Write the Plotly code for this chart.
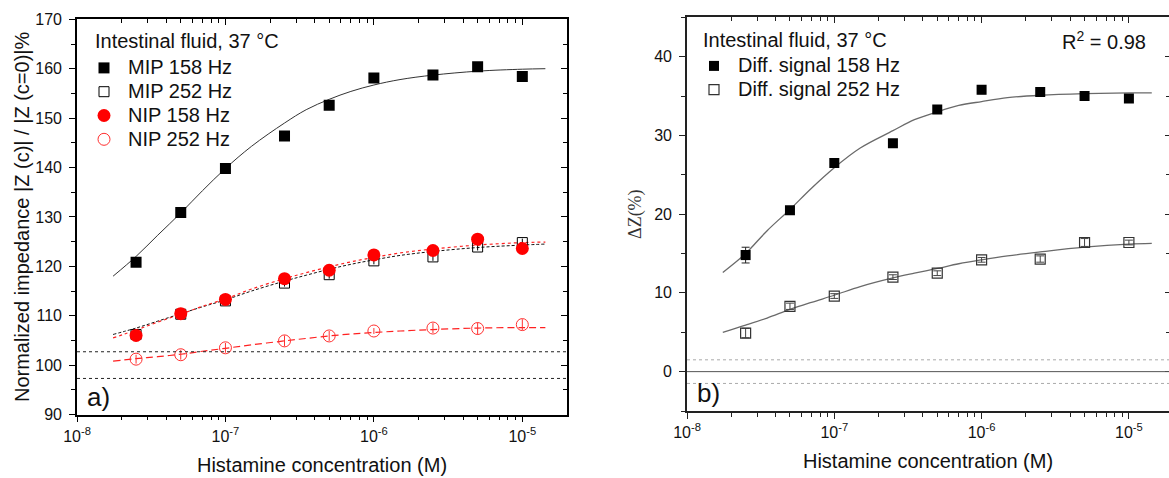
import math
import plotly.graph_objects as go

# ---------------- data ----------------
conc = [2.5e-8, 5e-8, 1e-7, 2.5e-7, 5e-7, 1e-6, 2.5e-6, 5e-6, 1e-5]

mip158 = [120.8, 130.9, 139.8, 146.4, 152.6, 158.1, 158.7, 160.4, 158.4]
mip252 = [106.2, 110.3, 113.0, 116.6, 118.3, 121.1, 121.9, 123.9, 124.8]
mip252_err = [0.8, 0.6, 0.6, 0.7, 0.8, 0.7, 0.8, 0.7, 0.8]
nip158 = [106.0, 110.4, 113.3, 117.5, 119.2, 122.3, 123.2, 125.5, 123.6]
nip252 = [101.2, 102.1, 103.5, 104.9, 105.9, 106.9, 107.5, 107.4, 108.2]
nip252_err = [0.9, 1.0, 1.0, 1.1, 1.0, 0.6, 1.0, 1.2, 1.1]

fit_x = [1.75e-8, 2.5e-8, 3.5e-8, 5e-8, 7e-8, 1e-7, 1.5e-7, 2.5e-7, 3.5e-7,
         5e-7, 7e-7, 1e-6, 1.5e-6, 2.5e-6, 5e-6, 1e-5, 1.43e-5]
fit_mip158 = [118.0, 122.0, 126.3, 130.8, 135.3, 139.8, 144.3, 149.0, 151.7,
              153.8, 155.4, 156.7, 157.8, 158.7, 159.5, 159.9, 160.0]
fit_mip252 = [106.2, 107.5, 108.9, 110.4, 111.8, 113.2, 115.0, 117.0, 118.2,
              119.4, 120.4, 121.3, 122.2, 123.0, 123.8, 124.3, 124.5]
fit_nip158 = [105.5, 107.1, 108.7, 110.3, 111.9, 113.4, 115.4, 117.5, 118.7,
              119.9, 120.9, 121.8, 122.7, 123.5, 124.3, 124.8, 124.9]
fit_nip252 = [100.8, 101.3, 101.7, 102.2, 102.8, 103.4, 104.1, 104.9, 105.4,
              105.9, 106.3, 106.6, 106.9, 107.2, 107.5, 107.6, 107.6]
limit_lines_a = [102.7, 97.3]

diff158 = [14.8, 20.5, 26.5, 29.0, 33.3, 35.8, 35.5, 35.0, 34.7]
diff158_err = [1.0, 0.4, 0.5, 0.3, 0.4, 0.5, 0.3, 0.3, 0.4]
diff252 = [4.9, 8.3, 9.6, 12.0, 12.5, 14.2, 14.3, 16.4, 16.4]
diff252_err = [0.6, 0.4, 0.3, 0.3, 0.3, 0.3, 0.4, 0.5, 0.3]
fit_diff158 = [12.6, 15.0, 17.9, 20.6, 23.3, 25.9, 28.4, 30.6, 32.0,
               33.0, 33.8, 34.3, 34.8, 35.1, 35.3, 35.4, 35.4]
fit_diff252 = [5.0, 5.9, 6.8, 7.9, 8.8, 9.7, 10.8, 11.9, 12.5,
               13.1, 13.7, 14.2, 14.7, 15.2, 15.8, 16.2, 16.3]
zero_line_b = [0.0]
noise_lines_b = [1.5, -1.5]

x_tickvals = [1e-8, 1e-7, 1e-6, 1e-5]
x_ticktext = ["10<sup>-8</sup>", "10<sup>-7</sup>", "10<sup>-6</sup>", "10<sup>-5</sup>"]
x_minor = [m * 10 ** e for e in (-8, -7, -6, -5) for m in range(2, 10) if m * 10 ** e < 2e-5]

# ---------------- layout geometry ----------------
W, H = 1169, 478
FONT = "Liberation Sans, Arial, sans-serif"
TXT = "#111111"


def px_x(p):
    return p / W


def px_y(p):
    return 1 - p / H


fig = go.Figure()

# ---------- panel a ----------
fit_styles_a = [
    (fit_mip158, dict(color="#333333", width=1)),
    (fit_mip252, dict(color="#111111", width=1, dash="3px,2px")),
    (fit_nip158, dict(color="#ff2020", width=1.2, dash="dot")),
    (fit_nip252, dict(color="#ff2020", width=1.2, dash="7px,4px")),
]
for ys, ln in fit_styles_a:
    fig.add_trace(go.Scatter(x=fit_x, y=ys, mode="lines", line=dict(shape="spline", **ln),
                             showlegend=False, hoverinfo="skip", xaxis="x", yaxis="y"))


def lg(t):
    return '<span style="font-size:20px">' + t + "</span>"


fig.add_trace(go.Scatter(x=conc, y=mip158, mode="markers", name=lg("MIP 158 Hz"),
                         marker=dict(symbol="square", size=11, color="black"),
                         xaxis="x", yaxis="y", legend="legend"))
fig.add_trace(go.Scatter(x=conc, y=mip252, mode="markers", name=lg("MIP 252 Hz"),
                         error_y=dict(type="data", array=mip252_err, color="black", thickness=1, width=0),
                         marker=dict(symbol="square-open", size=10, color="black", line=dict(width=1)),
                         xaxis="x", yaxis="y", legend="legend"))
fig.add_trace(go.Scatter(x=conc, y=nip158, mode="markers", name=lg("NIP 158 Hz"),
                         marker=dict(symbol="circle", size=13, color="#ff0000"),
                         xaxis="x", yaxis="y", legend="legend"))
fig.add_trace(go.Scatter(x=conc, y=nip252, mode="markers", name=lg("NIP 252 Hz"),
                         error_y=dict(type="data", array=nip252_err, color="#ff3030", thickness=1, width=0),
                         marker=dict(symbol="circle-open", size=12, color="#ff3030", line=dict(width=1)),
                         xaxis="x", yaxis="y", legend="legend"))

# ---------- panel b ----------
fig.add_trace(go.Scatter(x=fit_x, y=fit_diff158, mode="lines",
                         line=dict(shape="spline", color="#6a6a6a", width=1.3),
                         showlegend=False, hoverinfo="skip", xaxis="x2", yaxis="y2"))
fig.add_trace(go.Scatter(x=fit_x, y=fit_diff252, mode="lines",
                         line=dict(shape="spline", color="#6a6a6a", width=1.3),
                         showlegend=False, hoverinfo="skip", xaxis="x2", yaxis="y2"))
fig.add_trace(go.Scatter(x=conc, y=diff158, mode="markers", name=lg("Diff. signal 158 Hz"),
                         error_y=dict(type="data", array=diff158_err, color="#222222", thickness=1, width=4),
                         marker=dict(symbol="square", size=10, color="black"),
                         xaxis="x2", yaxis="y2", legend="legend2"))
fig.add_trace(go.Scatter(x=conc, y=diff252, mode="markers", name=lg("Diff. signal 252 Hz"),
                         error_y=dict(type="data", array=diff252_err, color="#444444", thickness=1, width=4),
                         marker=dict(symbol="square-open", size=10, color="#333333", line=dict(width=1.2)),
                         xaxis="x2", yaxis="y2", legend="legend2"))

# dummy traces for the mirrored (top/right) axes
fig.add_trace(go.Scatter(x=[], y=[], xaxis="x3", yaxis="y3", showlegend=False))
fig.add_trace(go.Scatter(x=[], y=[], xaxis="x4", yaxis="y4", showlegend=False))

# reference lines
shapes = []
for v in limit_lines_a:
    shapes.append(dict(type="line", xref="x domain", yref="y", x0=0, x1=1, y0=v, y1=v,
                       line=dict(color="#222222", width=1, dash="dot")))
for v in zero_line_b:
    shapes.append(dict(type="line", xref="x2 domain", yref="y2", x0=0, x1=1, y0=v, y1=v,
                       line=dict(color="#555555", width=1)))
for v in noise_lines_b:
    shapes.append(dict(type="line", xref="x2 domain", yref="y2", x0=0, x1=1, y0=v, y1=v,
                       line=dict(color="#aaaaaa", width=1, dash="dot")))

# axis geometry
xa_dom = [px_x(77), px_x(567)]
ya_dom = [px_y(414.5), px_y(19.3)]
xb_dom = [px_x(687), 1.0]
yb_dom = [px_y(411), px_y(17.3)]
xa_range = [-8, math.log10(2e-5)]
xb_range = [-8, -8 + (W - 687) / 147.3]

tickfont = dict(family=FONT, size=16, color=TXT)
titlefont = dict(family=FONT, size=20, color=TXT)


def bottom_x(dom, rng, anchor, col):
    return dict(domain=dom, type="log", range=rng, anchor=anchor, automargin=False,
                showline=True, linecolor=col, linewidth=1.6,
                ticks="outside", ticklen=6, tickwidth=1.3, tickcolor=col,
                tickvals=x_tickvals, ticktext=x_ticktext, tickfont=tickfont,
                minor=dict(tickmode="array", tickvals=x_minor, ticks="outside",
                           ticklen=4, tickwidth=1.1, tickcolor=col, showgrid=False),
                showgrid=False, zeroline=False,
                title=dict(text="Histamine concentration (M)", font=titlefont, standoff=14))


def top_x(dom, rng, anchor, over, col):
    return dict(domain=dom, type="log", range=rng, anchor=anchor, overlaying=over, side="top",
                automargin=False,
                showline=True, linecolor=col, linewidth=1.6,
                ticks="inside", ticklen=6, tickwidth=1.3, tickcolor=col,
                tickvals=x_tickvals, showticklabels=False,
                minor=dict(tickmode="array", tickvals=x_minor, ticks="inside",
                           ticklen=4, tickwidth=1.1, tickcolor=col, showgrid=False),
                showgrid=False, zeroline=False)


fig.update_layout(
    width=W, height=H,
    margin=dict(l=0, r=0, t=0, b=0, autoexpand=False),
    paper_bgcolor="white", plot_bgcolor="white",
    font=dict(family=FONT, color=TXT),
    xaxis=bottom_x(xa_dom, xa_range, "y", "black"),
    xaxis2=bottom_x(xb_dom, xb_range, "y2", "#222222"),
    xaxis3=top_x(xa_dom, xa_range, "y", "x", "black"),
    xaxis4=top_x(xb_dom, xb_range, "y2", "x2", "#222222"),
    yaxis=dict(domain=ya_dom, range=[90, 170], anchor="x", automargin=False,
               showline=True, linecolor="black", linewidth=1.6,
               ticks="outside", ticklen=6, tickwidth=1.3, tickcolor="black",
               tickmode="linear", tick0=90, dtick=10, tickfont=tickfont, ticklabelstandoff=4,
               minor=dict(ticks="outside", dtick=5, ticklen=4, tickwidth=1.1, tickcolor="black", showgrid=False),
               showgrid=False, zeroline=False,
               title=dict(text="Normalized impedance |Z (c)| / |Z (c=0)|%", font=titlefont, standoff=0)),
    yaxis3=dict(domain=ya_dom, range=[90, 170], anchor="x", overlaying="y", side="right", automargin=False,
                showline=True, linecolor="black", linewidth=1.6,
                ticks="inside", ticklen=6, tickwidth=1.3, tickcolor="black",
                tickmode="linear", tick0=90, dtick=10, showticklabels=False,
                minor=dict(ticks="inside", dtick=5, ticklen=4, tickwidth=1.1, tickcolor="black", showgrid=False),
                showgrid=False, zeroline=False),
    yaxis2=dict(domain=yb_dom, range=[-5, 45], anchor="x2", automargin=False,
                showline=True, linecolor="#222222", linewidth=1.6,
                ticks="outside", ticklen=6, tickwidth=1.3, tickcolor="#222222",
                tickmode="linear", tick0=0, dtick=10, tickfont=tickfont, ticklabelstandoff=4,
                minor=dict(ticks="outside", dtick=5, ticklen=4, tickwidth=1.1, tickcolor="#222222", showgrid=False),
                showgrid=False, zeroline=False,
                title=dict(text="ΔZ(%)", font=dict(family="Liberation Serif, Times New Roman, serif",
                                                   size=18, color="#333333"), standoff=8)),
    yaxis4=dict(domain=yb_dom, range=[-5, 45], anchor="x2", overlaying="y2", side="right", automargin=False,
                showline=False,
                ticks="inside", ticklen=4, tickwidth=1.3, tickcolor="#222222",
                tickmode="linear", tick0=0, dtick=10, showticklabels=False,
                minor=dict(ticks="inside", dtick=5, ticklen=3, tickwidth=1.1, tickcolor="#222222", showgrid=False),
                showgrid=False, zeroline=False),
    legend=dict(x=px_x(80), y=px_y(51), xanchor="left", yanchor="top", itemwidth=38,
                bgcolor="rgba(0,0,0,0)", borderwidth=0,
                font=dict(family=FONT, size=16, color=TXT), tracegroupgap=0),
    legend2=dict(x=px_x(690), y=px_y(49), xanchor="left", yanchor="top", itemwidth=38,
                 bgcolor="rgba(0,0,0,0)", borderwidth=0,
                 font=dict(family=FONT, size=16, color=TXT), tracegroupgap=0),
    shapes=shapes,
    annotations=[
        dict(text="Intestinal fluid, 37 °C", xref="paper", yref="paper", x=px_x(93), y=px_y(41),
             xanchor="left", yanchor="middle", showarrow=False, font=dict(family=FONT, size=20, color=TXT)),
        dict(text="a)", xref="paper", yref="paper", x=px_x(85), y=px_y(397),
             xanchor="left", yanchor="middle", showarrow=False, font=dict(family=FONT, size=26, color=TXT)),
        dict(text="Intestinal fluid, 37 °C", xref="paper", yref="paper", x=px_x(701), y=px_y(40),
             xanchor="left", yanchor="middle", showarrow=False, font=dict(family=FONT, size=20, color=TXT)),
        dict(text="R<sup>2</sup> = 0.98", xref="paper", yref="paper", x=px_x(1148), y=px_y(40),
             xanchor="right", yanchor="middle", showarrow=False, font=dict(family=FONT, size=20, color=TXT)),
        dict(text="b)", xref="paper", yref="paper", x=px_x(695), y=px_y(393),
             xanchor="left", yanchor="middle", showarrow=False, font=dict(family=FONT, size=26, color=TXT)),
    ],
)

fig.write_html("out.html", config={"displayModeBar": False},
               post_script="document.body.style.margin='0';document.body.style.overflow='hidden';")
